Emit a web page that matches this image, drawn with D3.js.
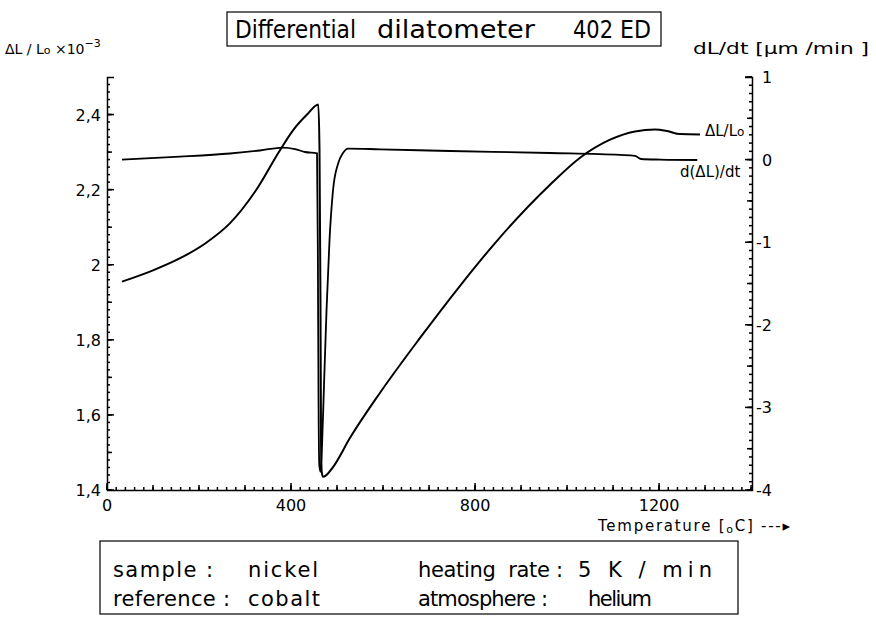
<!DOCTYPE html>
<html>
<head>
<meta charset="utf-8">
<script src="https://cdn.jsdelivr.net/npm/d3@7"></script>
<style>
	body { margin:0; background:#FFFFFF; }
	#vis_container { width:876px; height:622px; }
	text { font-family:"DejaVu Sans",sans-serif; fill:#000000; }
</style>
</head>
<body>
<div id="vis_container"></div>
<script>
// dL/Lo curve (x 10^-3) against temperature in degC
var expTemps = [32.6, 100, 160, 215, 267, 322, 376, 404.3, 434.8, 459.3, 461.9, 464, 465.2, 466.7, 469.6, 476.1, 491.3, 528.3, 593.5, 680.4, 767.4, 854.3, 963, 1028.3, 1093.5, 1147.8, 1191.3, 1217.4, 1245.7, 1289];
var expValues = [1.955, 1.985, 2.018, 2.058, 2.11, 2.195, 2.305, 2.358, 2.40, 2.427, 2.307, 1.907, 1.533, 1.448, 1.435, 1.439, 1.461, 1.539, 1.659, 1.805, 1.944, 2.073, 2.213, 2.285, 2.333, 2.355, 2.36, 2.356, 2.348, 2.347];

// d(dL)/dt curve in um/min
var rateTemps = [32.6, 158.7, 267.4, 332.6, 382.6, 408.7, 430.4, 456.5, 458.3, 459.8, 461.5, 464.1, 467.4, 471.7, 477.2, 483.7, 491.3, 502.2, 513, 523.9, 593.5, 745.7, 963, 1115, 1148, 1161, 1202, 1283];
var rateValues = [0.0, 0.035, 0.074, 0.11, 0.146, 0.128, 0.092, 0.076, -1.09, -2.91, -3.70, -3.78, -3.46, -2.73, -1.82, -0.97, -0.37, -0.05, 0.08, 0.134, 0.125, 0.104, 0.08, 0.056, 0.044, 0.007, 0.0, -0.005];

var tempTicks = [0, 400, 800, 1200];
var expTicks = [1.4, 1.6, 1.8, 2, 2.2, 2.4];
var expLabels = ["1,4", "1,6", "1,8", "2", "2,2", "2,4"];
var rateTicks = [1, 0, -1, -2, -3, -4];
var rateLabels = ["1", "0", "-1", "-2", "-3", "-4"];

var dil = {};
dil.width = 876;
dil.height = 622;

dil.svg = d3.select("#vis_container").append("svg")
	.attr("width", dil.width)
	.attr("height", dil.height)
	.style("background-color","#FFFFFF");

dil.x = d3.scaleLinear().domain([0,1402]).range([107,752]);
dil.yLeft = d3.scaleLinear().domain([1.4,2.5]).range([490,77]);
dil.yRight = d3.scaleLinear().domain([-4,1]).range([490,77]);

// axis frame: left and right have small brackets at the top
dil.svg.append("path")
	.attr("d", "M114,77.5H107.5V490.5H752.5V77.5H745")
	.attr("fill","none").attr("stroke","#000").attr("stroke-width",1.5);

// tick marks all point into the plot
function drawTicks(values, len, orient) {
	dil.svg.append("g").selectAll("line")
		.data(values)
		.enter().append("line")
		.attr("x1", function(d) { return orient == "b" ? dil.x(d) : (orient == "l" ? 107 : 752); })
		.attr("x2", function(d) { return orient == "b" ? dil.x(d) : (orient == "l" ? 107 + len : 752 - len); })
		.attr("y1", function(d) { return orient == "b" ? 490 : (orient == "l" ? dil.yLeft(d) : dil.yRight(d)); })
		.attr("y2", function(d) { return orient == "b" ? 490 - len : (orient == "l" ? dil.yLeft(d) : dil.yRight(d)); })
		.attr("stroke","#000").attr("stroke-width",1.5);
}
drawTicks(d3.range(0,1401,20), 3, "b");
drawTicks(d3.range(0,1401,100), 5, "b");
drawTicks(tempTicks, 7, "b");
drawTicks(d3.range(70,125).map(function(i){ return i/50; }), 3, "l");
drawTicks(d3.range(14,25).map(function(i){ return i/10; }), 5, "l");
drawTicks(expTicks, 7, "l");
drawTicks(d3.range(-40,11).map(function(i){ return i/10; }), 3, "r");
drawTicks(d3.range(-8,3).map(function(i){ return i/2; }), 5, "r");
drawTicks(rateTicks, 7, "r");

// tick labels
dil.svg.append("g").selectAll("text")
	.data(tempTicks)
	.enter().append("text")
	.attr("x", function(d) { return dil.x(d); })
	.attr("y", 511)
	.attr("text-anchor","middle")
	.attr("font-size",16)
	.text(function(d) { return d; });
dil.svg.append("g").selectAll("text")
	.data(expTicks)
	.enter().append("text")
	.attr("x", 101)
	.attr("y", function(d) { return dil.yLeft(d) + 6; })
	.attr("text-anchor","end")
	.attr("font-size",16)
	.text(function(d,i) { return expLabels[i]; });
dil.svg.append("g").selectAll("text")
	.data(rateTicks)
	.enter().append("text")
	.attr("x", function(d) { return d < 0 ? 756 : 762; })
	.attr("y", function(d) { return dil.yRight(d) + 6; })
	.attr("font-size",16)
	.text(function(d,i) { return rateLabels[i]; });

// curves
dil.expLine = d3.line()
	.x(function(d,i){ return dil.x(expTemps[i]); })
	.y(function(d){ return dil.yLeft(d); })
	.curve(d3.curveMonotoneX);
dil.rateLine = d3.line()
	.x(function(d,i){ return dil.x(rateTemps[i]); })
	.y(function(d){ return dil.yRight(d); })
	.curve(d3.curveMonotoneX);

dil.svg.append("path")
	.attr("d", dil.expLine(expValues))
	.attr("fill","none").attr("stroke","#000").attr("stroke-width",2);
dil.svg.append("path")
	.attr("d", dil.rateLine(rateValues))
	.attr("fill","none").attr("stroke","#000").attr("stroke-width",1.8);

// title box
dil.svg.append("rect")
	.attr("x",227).attr("y",12).attr("width",434).attr("height",34)
	.attr("fill","none").attr("stroke","#000").attr("stroke-width",1.2);
[["Differential",235,121],["dilatometer",377,158],["402",573,40],["ED",620,31]].forEach(function(t) {
	dil.svg.append("text")
		.attr("x",t[1]).attr("y",38)
		.attr("font-size",24)
		.attr("textLength",t[2]).attr("lengthAdjust","spacingAndGlyphs")
		.text(t[0]);
});

// axis titles
var lt = dil.svg.append("text").attr("x",5).attr("y",54).attr("font-size",14);
lt.append("tspan").text("ΔL / L");
lt.append("tspan").attr("font-size",11).text("o");
lt.append("tspan").text(" ×10");
lt.append("tspan").attr("dy",-7).attr("font-size",11).text("−3");

dil.svg.append("text")
	.attr("x",693).attr("y",54).attr("font-size",16)
	.attr("textLength",176).attr("lengthAdjust","spacingAndGlyphs")
	.text("dL/dt [μm /min ]");

var tt = dil.svg.append("text").attr("x",598).attr("y",531).attr("font-size",15)
	.attr("textLength",192).attr("lengthAdjust","spacing");
tt.append("tspan").text("Temperature [");
tt.append("tspan").attr("font-size",11).attr("dy",2).text("o");
tt.append("tspan").attr("dy",-2).text("C]  ---▸");

// curve labels
var cl = dil.svg.append("text").attr("x",705).attr("y",136).attr("font-size",15);
cl.append("tspan").text("ΔL/L");
cl.append("tspan").attr("font-size",12).text("o");
dil.svg.append("text").attr("x",680).attr("y",177).attr("font-size",15).text("d(ΔL)/dt");

// conditions box
dil.svg.append("rect")
	.attr("x",100).attr("y",541).attr("width",638).attr("height",73)
	.attr("fill","none").attr("stroke","#000").attr("stroke-width",1.2);
[["sample :",113,577,100],["nickel",248,577,70],["heating  rate :",418,577,145],["5 K / min",578,577,134],
 ["reference :",113,606,117],["cobalt",248,606,72],["atmosphere :",418,606,130],["helium",588,606,64]].forEach(function(t) {
	dil.svg.append("text")
		.attr("x",t[1]).attr("y",t[2])
		.attr("font-size",21)
		.attr("textLength",t[3]).attr("lengthAdjust","spacing")
		.attr("xml:space","preserve")
		.text(t[0]);
});
</script>
</body>
</html>
